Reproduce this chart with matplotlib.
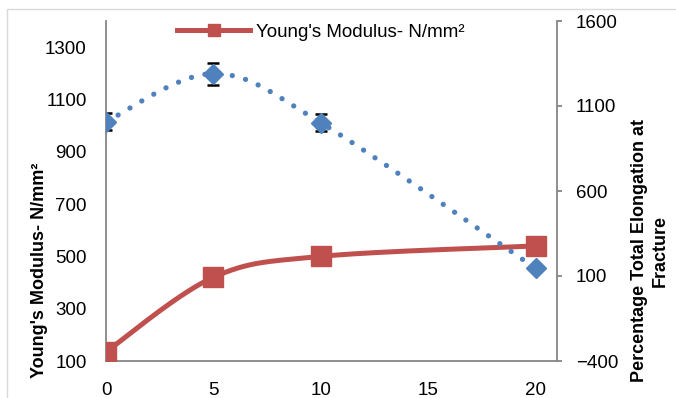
import numpy as np
import matplotlib
matplotlib.use('Agg')
import matplotlib.pyplot as plt
from matplotlib.lines import Line2D
from matplotlib.patches import Rectangle

plt.rcParams['font.family'] = ['Liberation Sans', 'DejaVu Sans']

# sample series
x = [0, 5, 10, 20]
modulus = [135, 420, 500, 540]            # N/mm2, left axis
elong_x = [0, 5, 10, 20]
elongation = [1008, 1290, 1002, 145]      # %, right axis
elong_err = [50, 64, 51, 0]

red = '#C0504D'
blue = '#4F81BD'
grey = '#868686'
fs = 13.5


def smooth(xs, ys, sx, sy, n=60):
    # Bezier smoothing like a spreadsheet "smoothed line", done in screen-like units
    p = np.column_stack([np.asarray(xs, float) * sx, np.asarray(ys, float) * sy])
    t = np.linspace(0, 1, n)[:, None]
    parts = []
    for i in range(len(p) - 1):
        p0 = p[max(i - 1, 0)]
        p1 = p[i]
        p2 = p[i + 1]
        p3 = p[min(i + 2, len(p) - 1)]
        c1 = p1 + (p2 - p0) / 6
        c2 = p2 - (p3 - p1) / 6
        seg = (1 - t) ** 3 * p1 + 3 * (1 - t) ** 2 * t * c1 + 3 * (1 - t) * t ** 2 * c2 + t ** 3 * p2
        parts.append(seg if i == 0 else seg[1:])
    s = np.vstack(parts)
    return s[:, 0] / sx, s[:, 1] / sy


fig = plt.figure(figsize=(6.76, 3.98), dpi=100)
ax = fig.add_axes([106 / 676, 1 - 361 / 398, 451 / 676, 340 / 398])
ax2 = ax.twinx()

xmax = 21
ax.set_xlim(0, xmax)
ax.set_ylim(100, 1400)
ax2.set_ylim(-400, 1600)

sx = 451 / xmax
sx_r, sy_r = smooth(x, modulus, sx, 340 / 1300)
ax.plot(sx_r, sy_r, color=red, lw=3.6, solid_capstyle='round', zorder=2)
ax.plot(x, modulus, 's', color=red, ms=15, zorder=3)

bx, by = smooth(elong_x, elongation, sx, 340 / 2000)
ax2.plot(bx, by, color=blue, lw=3.8, linestyle=(0, (0.01, 2.6)),
         dash_capstyle='round', zorder=2)
ax2.errorbar(elong_x[:3], elongation[:3], yerr=elong_err[:3], fmt='none',
             ecolor='black', elinewidth=1.2, capsize=4.6, capthick=1.8, zorder=3)
ax2.plot(elong_x, elongation, 'D', color=blue, ms=10.5, zorder=4)

ax.set_xticks([0, 5, 10, 15, 20])
ax.set_yticks([100, 300, 500, 700, 900, 1100, 1300])
ax2.set_yticks([-400, 100, 600, 1100, 1600])

for a in (ax, ax2):
    a.spines['top'].set_visible(False)
    for s in ('left', 'right', 'bottom'):
        a.spines[s].set_color(grey)
        a.spines[s].set_linewidth(1.3)
ax.spines['right'].set_visible(False)
ax2.spines['left'].set_visible(False)
ax2.spines['bottom'].set_visible(False)

ax.tick_params(axis='x', length=0, pad=15, labelsize=fs)
ax.tick_params(axis='y', length=0, pad=14, labelsize=fs)
ax2.tick_params(axis='y', length=3.5, width=1.3, color=grey, direction='out',
                pad=10, labelsize=fs)

fig.text(40 / 676, 1 - 270 / 398, "Young's Modulus- N/mm²", rotation=90,
         ha='center', va='center', fontsize=fs - 0.5, fontweight='bold')
fig.text(650 / 676, 1 - 251 / 398, "Percentage Total Elongation at\nFracture",
         rotation=90, ha='center', va='center', fontsize=fs - 0.5,
         fontweight='bold', multialignment='center', linespacing=1.25)

handle = Line2D([], [], color=red, lw=3.6, marker='s', ms=9)
fig.legend([handle], ["Young's Modulus- N/mm²"], loc='center left',
           bbox_to_anchor=(177 / 676, 1 - 32 / 398), frameon=False,
           fontsize=fs, handlelength=3.9, handletextpad=0.3, borderpad=0,
           borderaxespad=0)

fig.patches.append(Rectangle((7 / 676, -0.1), 1.2, 1 - 9 / 398 + 0.1,
                             transform=fig.transFigure, fill=False,
                             edgecolor='#D9D9D9', lw=1))

fig.savefig('out.png', dpi=100)
